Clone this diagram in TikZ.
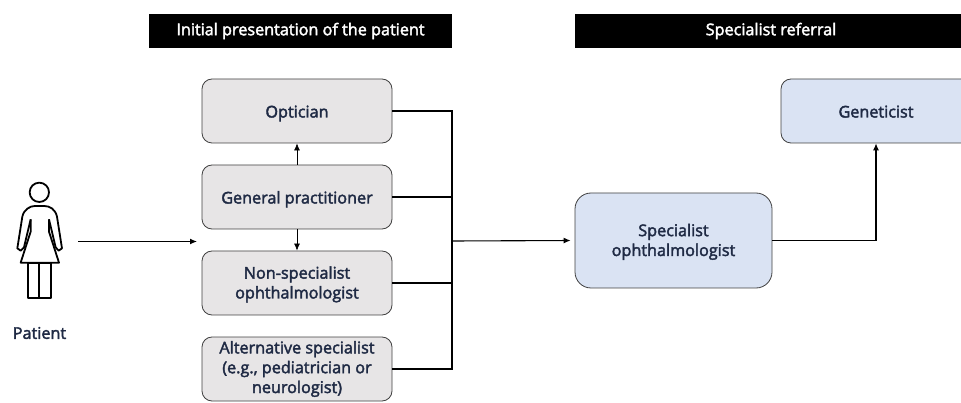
\documentclass[tikz,border=0pt]{standalone}
\usepackage{fontspec}
\setmainfont{Open Sans}
\usetikzlibrary{arrows.meta}
\definecolor{boxGrey}{HTML}{E7E5E6}
\definecolor{boxBlue}{HTML}{DAE3F3}
\definecolor{textNavy}{HTML}{1F2A44}
\newcommand{\labelfont}{\fontsize{16.2}{19.8}\selectfont\addfontfeature{FakeBold=2.4}}
\newcommand{\oneline}{\rule[-5pt]{0pt}{23pt}}
\newcommand{\twolines}{\rule{0pt}{15pt}}
\tikzset{%
  >={Latex[width=6pt,length=7pt]},
  base/.style = {rectangle, rounded corners=10pt, draw=black!75, line width=0.8pt,
      minimum width=190pt, minimum height=64pt, inner sep=0pt,
      align=center, text=textNavy, font=\labelfont},
  initial/.style = {base, fill=boxGrey},
  referral/.style = {base, fill=boxBlue},
  header/.style = {rectangle, fill=black, text=white, minimum height=34pt, inner sep=0pt,
      font=\labelfont},
  link/.style = {line width=1.1pt},
  thinlink/.style = {line width=0.7pt},
  person/.style = {line width=1.8pt, line join=round},
}
\begin{document}
\begin{tikzpicture}[x=1pt, y=-1pt, node distance=86pt]
  \useasboundingbox (0,0) rectangle (961,403);
  % Headers
  \node (initialHeader)  [header, minimum width=303pt] at (300.5,31) {Initial presentation of the patient};
  \node (referralHeader) [header, minimum width=392pt] at (771,31)   {Specialist referral};
  % Boxes of the first column
  \node (optician)      [initial] at (297,111)          {\oneline Optician};
  \node (generalBlock)  [initial, below of=optician]    {\oneline General practitioner};
  \node (nonSpecBlock)  [initial, below of=generalBlock] {\twolines Non-specialist\\ophthalmologist};
  \node (altSpecBlock)  [initial, below of=nonSpecBlock] {Alternative specialist\\(e.g., pediatrician or\\neurologist)};
  % Boxes of the second column
  \node (specBlock)     [referral, rounded corners=16pt, minimum width=197pt, minimum height=95pt]
                                  at (673.5,240.5)      {\twolines Specialist\\ophthalmologist};
  \node (geneticist)    [referral] at (876,111)         {\oneline Geneticist};
  % Patient icon
  \begin{scope}[shift={(0,160)}, x=0.3333pt, y=-0.3333pt]
    \draw[person] (118,97) circle[radius=29];
    \draw[person] (92,178) -- (92,215) -- (62,308) -- (177,308) -- (147,215) -- (147,178);
    \draw[person] (92,178) -- (72,262) -- (62,272) -- (52,265)
       -- (67,170) .. controls (72,148) and (90,138) .. (105,138)
       -- (133,138) .. controls (150,138) and (166,148) .. (171,170)
       -- (186,265) -- (176,272) -- (167,262) -- (147,178);
    \draw[person] (85,308) rectangle (153,413);
    \draw[person] (118,308) -- (118,413);
  \end{scope}
  \node (patient) [text=textNavy, font=\labelfont] at (39.5,333) {Patient};
  % Free ends of the lines
  \coordinate (patientOut) at (78,241.5);
  \coordinate (patientIn)  at (197,241.5);
  \coordinate (railTop)    at (452,111);
  \coordinate (railMid)    at (452,241);
  \coordinate (railBottom) at (452,369);
  % Lines between the nodes
  \draw[->, link]     (patientOut) -- (patientIn);
  \draw[->, thinlink] (generalBlock) -- (optician);
  \draw[->, thinlink] (generalBlock) -- (nonSpecBlock);
  \draw[link]         (optician.east) -- (railTop) -- (railBottom) -- (altSpecBlock.east);
  \draw[link]         (generalBlock.east) -- (generalBlock.east -| railTop);
  \draw[link]         (nonSpecBlock.east) -- (nonSpecBlock.east -| railTop);
  \draw[->, link, shorten >=4pt] (railMid) -- (specBlock.west);
  \draw[->, link]     (specBlock.east) -| (geneticist.south);
\end{tikzpicture}
\end{document}
